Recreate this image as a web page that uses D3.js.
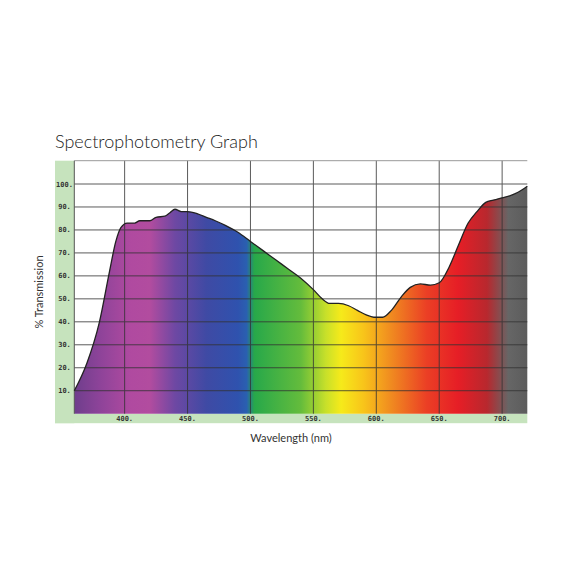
<!DOCTYPE html><html><head><meta charset="utf-8">
<script src="https://cdn.jsdelivr.net/npm/d3@7"></script>
<style>body{margin:0;background:#fff}</style></head><body>
<svg id="c" width="576" height="576"></svg>
<script>
const wavelengths=[360,370,380,388,393,397,402,408,412,420,425,432,436,440,445,450,458,465,472,480,490,500,510,520,530,540,550,557,563,570,578,585,592,598,605,612,620,627,635,643,650,658,665,673,680,687,693,700,707,713,720];
const transmission=[10,22,40,62,75,81,83,83,84,84,85.5,86,87.5,89,88,88,87,85.5,84,82,79,75,71,67,63,59,54,50,48,48,47,45,43,42,42,45,51,55,56.5,56,57,64,73,83,88,92,93,94,95,96.5,99];
const xTicks=[400,450,500,550,600,650,700];
const yTicks=[10,20,30,40,50,60,70,80,90,100];
const gradStops=[[360,"#6e3e8c"],[380,"#8d4399"],[405,"#b04aa0"],[420,"#b24c9f"],[440,"#6e48a3"],[465,"#3f4aa4"],[490,"#2f52ae"],[497,"#2a60b0"],[503,"#27a84a"],[540,"#64bc3c"],[560,"#c8e02a"],[572,"#f6ea1a"],[590,"#f8c41a"],[612,"#f08a20"],[640,"#eb3f25"],[665,"#e61e26"],[688,"#b8282e"],[705,"#666"],[720,"#5c5c5c"]];

const svg=d3.select("#c");
const x=d3.scaleLinear().domain([360,720]).range([74.3,527.3]);
const y=d3.scaleLinear().domain([0,100]).range([413.7,184]);
const pTop=160.7,pBot=413.7;
svg.append("rect").attr("x",55).attr("y",pTop).attr("width",19.3).attr("height",pBot-pTop+9.5).attr("fill","#c6e3bd");
svg.append("rect").attr("x",55).attr("y",pBot).attr("width",527.3-55).attr("height",9.5).attr("fill","#c6e3bd");
const g=svg.append("defs").append("linearGradient").attr("id","sp").attr("gradientUnits","userSpaceOnUse")
 .attr("x1",x(360)).attr("x2",x(720)).attr("y1",0).attr("y2",0);
gradStops.forEach(s=>g.append("stop").attr("offset",(s[0]-360)/360).attr("stop-color",s[1]));
const pts=wavelengths.map((w,i)=>[w,transmission[i]]);
svg.append("path").datum(pts).attr("fill","url(#sp)")
 .attr("d",d3.area().x(d=>x(d[0])).y0(pBot).y1(d=>y(d[1])).curve(d3.curveMonotoneX));
const grid=svg.append("g").attr("stroke","#333").attr("stroke-width",1).attr("opacity",0.8);
xTicks.forEach(t=>grid.append("line").attr("x1",x(t)).attr("x2",x(t)).attr("y1",pTop).attr("y2",pBot));
yTicks.forEach(t=>grid.append("line").attr("x1",x(360)).attr("x2",x(720)).attr("y1",y(t)).attr("y2",y(t)));
svg.append("line").attr("x1",x(360)).attr("x2",x(720)).attr("y1",pTop).attr("y2",pTop).attr("stroke","#999");
svg.append("line").attr("x1",x(360)).attr("x2",x(360)).attr("y1",pTop).attr("y2",pBot).attr("stroke","#555");
svg.append("path").datum(pts).attr("fill","none").attr("stroke","#222").attr("stroke-width",1.3)
 .attr("d",d3.line().x(d=>x(d[0])).y(d=>y(d[1])).curve(d3.curveMonotoneX));
const lf="font-family:'DejaVu Sans Mono',monospace;font-weight:bold;font-size:7px;fill:#333";
yTicks.forEach(t=>svg.append("text").attr("x",64.5).attr("y",y(t)+2.5).attr("text-anchor","middle").attr("style",lf).text(t+"."));
xTicks.forEach(t=>svg.append("text").attr("x",x(t)).attr("y",pBot+7.5).attr("text-anchor","middle").attr("style",lf).text(t+"."));
svg.append("text").attr("x",55).attr("y",148).attr("style","font-family:Lato;font-weight:300;font-size:18px;fill:#222").text("Spectrophotometry Graph");
svg.append("text").attr("transform","translate(43,292) rotate(-90)").attr("text-anchor","middle").attr("style","font-family:Lato;font-size:11px;fill:#333").text("% Transmission");
svg.append("text").attr("x",291).attr("y",442).attr("text-anchor","middle").attr("style","font-family:Lato;font-size:11px;fill:#333").text("Wavelength (nm)");
</script></body></html>
